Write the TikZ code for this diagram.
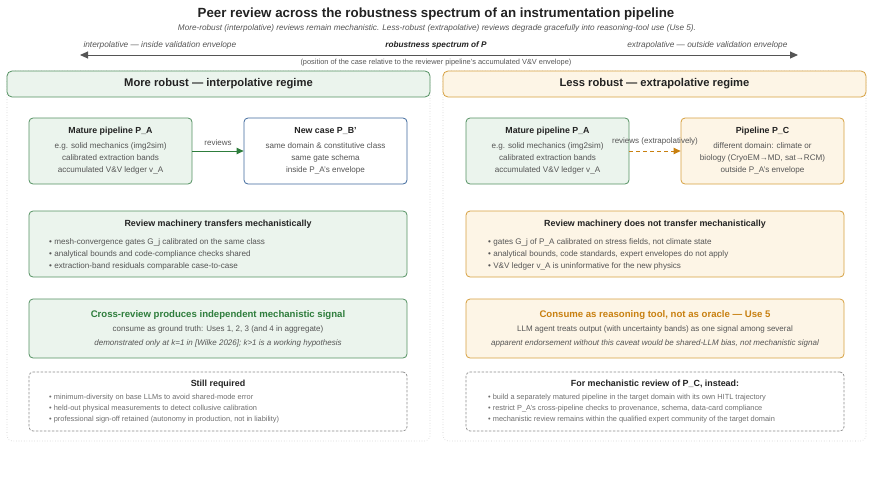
\documentclass[tikz,border=0pt]{standalone}
\usepackage{fontspec}
\setmainfont{Liberation Sans}
\usetikzlibrary{arrows.meta,positioning,calc}
\definecolor{InkDark}{RGB}{34,34,34}
\definecolor{InkGrey}{RGB}{85,85,85}
\definecolor{InkSoft}{RGB}{110,110,110}
\definecolor{PanelGrey}{RGB}{200,200,200}
\definecolor{ForestEdge}{RGB}{84,145,98}
\definecolor{ForestText}{RGB}{46,125,60}
\definecolor{SoftGreen}{RGB}{235,244,237}
\definecolor{AmberEdge}{RGB}{214,160,64}
\definecolor{AmberText}{RGB}{200,128,16}
\definecolor{SoftAmber}{RGB}{253,245,230}
\definecolor{SteelEdge}{RGB}{62,104,156}

\begin{document}
\begin{tikzpicture}[x=1pt,y=-1pt,>={Triangle[length=7pt,width=6.5pt]},
  panel/.style={draw=PanelGrey,dotted,line width=0.6pt,rounded corners=5pt},
  header/.style={rounded corners=5pt,line width=0.8pt,minimum width=423pt,
    minimum height=26pt,text=InkDark,font=\bfseries\fontsize{11.2}{13}\selectfont},
  card/.style={rounded corners=4pt,line width=0.8pt,minimum width=163pt,
    minimum height=66pt,align=center,text=InkGrey,inner sep=0pt,
    font=\fontsize{8.1}{12}\selectfont},
  widebox/.style={rounded corners=4pt,line width=0.8pt,minimum width=378pt,inner sep=0pt},
  boxtitle/.style={text=InkDark,font=\bfseries\fontsize{8.9}{10}\selectfont,inner sep=0pt},
  bullets/.style={anchor=west,align=left,text=InkGrey,inner sep=0pt,
    font=\fontsize{8.1}{12}\selectfont},
  smallbullets/.style={anchor=west,align=left,text=InkSoft,inner sep=0pt,
    font=\fontsize{7.4}{11}\selectfont},
  greenbox/.style={draw=ForestEdge,fill=SoftGreen},
  amberbox/.style={draw=AmberEdge,fill=SoftAmber},
  cavebox/.style={draw=InkSoft!80,dashed,dash pattern=on 2.5pt off 1.5pt,line width=0.7pt}
]
\useasboundingbox (0,0) rectangle (873,493);

% title and spectrum axis
\node[text=InkDark,font=\bfseries\fontsize{13.3}{15}\selectfont] (title) at (436,14)
  {Peer review across the robustness spectrum of an instrumentation pipeline};
\node[text=InkGrey,font=\itshape\fontsize{8.2}{10}\selectfont] (subtitle) at (437,28)
  {More-robust (interpolative) reviews remain mechanistic. Less-robust (extrapolative) reviews degrade gracefully into reasoning-tool use (Use 5).};
\coordinate (lo) at (80,55);
\coordinate (hi) at (798,55);
\draw[<->,InkGrey,line width=1pt,>={Triangle[length=8pt,width=7pt]}] (lo) -- (hi);
\node[anchor=west,text=InkGrey,font=\itshape\fontsize{8.3}{10}\selectfont] (interp) at (80,45)
  {interpolative --- inside validation envelope};
\node[text=InkDark,font=\bfseries\itshape\fontsize{8.2}{10}\selectfont] (spectrum) at (436,45)
  {robustness spectrum of P};
\node[anchor=east,text=InkGrey,font=\itshape\fontsize{8.3}{10}\selectfont] (extrap) at (791,45)
  {extrapolative --- outside validation envelope};
\node[text=InkGrey,font=\fontsize{7.4}{9}\selectfont] (position) at (436,63)
  {(position of the case relative to the reviewer pipeline's accumulated V\&V envelope)};

% left panel: interpolative
\draw[panel] (7,71) rectangle (430,441);
\node[header,greenbox] (hdrL) at (218.5,84) {More robust --- interpolative regime};

\node[card,greenbox] (matA) at (110.5,151)
  {{\bfseries\color{InkDark}\fontsize{8.8}{12}\selectfont Mature pipeline P\_A}\\[3pt]
   e.g. solid mechanics (img2sim)\\ calibrated extraction bands\\ accumulated V\&V ledger v\_A};
\node[card,draw=SteelEdge,fill=white] (newB) at (325.5,151)
  {{\bfseries\color{InkDark}\fontsize{8.8}{12}\selectfont New case P\_B'}\\[3pt]
   same domain \& constitutive class\\ same gate schema\\ inside P\_A's envelope};
\draw[->,ForestText,line width=1pt] (matA) -- (newB)
  node[midway,above=2pt,text=InkGrey,font=\fontsize{8}{10}\selectfont] {reviews};

\node[widebox,greenbox,minimum height=66pt] (machL) at (218,244) {};
\node[boxtitle] (machLt) at (218,224) {Review machinery transfers mechanistically};
\node[bullets] (machLb) at (49,254)
  {• mesh-convergence gates G\_j calibrated on the same class\\
   • analytical bounds and code-compliance checks shared\\
   • extraction-band residuals comparable case-to-case};

\node[widebox,greenbox,minimum height=59pt,align=center,text=InkGrey,
  font=\fontsize{8}{14}\selectfont] (crossL) at (218,328.5)
  {{\bfseries\color{ForestText}\fontsize{9.6}{14}\selectfont Cross-review produces independent mechanistic signal}\\
   consume as ground truth: Uses 1, 2, 3 (and 4 in aggregate)\\
   \itshape demonstrated only at k=1 in [Wilke 2026]; k>1 is a working hypothesis};

\node[widebox,cavebox,minimum height=59pt] (stillL) at (218,401.5) {};
\node[boxtitle] (stillLt) at (218,384) {Still required};
\node[smallbullets] (stillLb) at (49,409)
  {• minimum-diversity on base LLMs to avoid shared-mode error\\
   • held-out physical measurements to detect collusive calibration\\
   • professional sign-off retained (autonomy in production, not in liability)};

% right panel: extrapolative
\draw[panel] (443,71) rectangle (866,441);
\node[header,amberbox] (hdrR) at (654.5,84) {Less robust --- extrapolative regime};

\node[card,greenbox] (matA2) at (547.5,151)
  {{\bfseries\color{InkDark}\fontsize{8.8}{12}\selectfont Mature pipeline P\_A}\\[3pt]
   e.g. solid mechanics (img2sim)\\ calibrated extraction bands\\ accumulated V\&V ledger v\_A};
\node[card,amberbox] (pipeC) at (762.5,151)
  {{\bfseries\color{InkDark}\fontsize{8.8}{12}\selectfont Pipeline P\_C}\\[3pt]
   different domain: climate or\\ biology (CryoEM→MD, sat→RCM)\\ outside P\_A's envelope};
\draw[->,AmberText,line width=1pt,dashed,dash pattern=on 4pt off 3pt] (matA2) -- (pipeC)
  node[midway,above=2pt,text=InkGrey,font=\fontsize{8}{10}\selectfont] {reviews (extrapolatively)};

\node[widebox,amberbox,minimum height=66pt] (machR) at (655,244) {};
\node[boxtitle] (machRt) at (655,224) {Review machinery does not transfer mechanistically};
\node[bullets] (machRb) at (488,254)
  {• gates G\_j of P\_A calibrated on stress fields, not climate state\\
   • analytical bounds, code standards, expert envelopes do not apply\\
   • V\&V ledger v\_A is uninformative for the new physics};

\node[widebox,amberbox,minimum height=59pt,align=center,text=InkGrey,
  font=\fontsize{8}{14}\selectfont] (oracleR) at (655,328.5)
  {{\bfseries\color{AmberText}\fontsize{9.6}{14}\selectfont Consume as reasoning tool, not as oracle --- Use 5}\\
   LLM agent treats output (with uncertainty bands) as one signal among several\\
   \itshape apparent endorsement without this caveat would be shared-LLM bias, not mechanistic signal};

\node[widebox,cavebox,minimum height=59pt] (insteadR) at (655,401.5) {};
\node[boxtitle] (insteadRt) at (655,384) {For mechanistic review of P\_C, instead:};
\node[smallbullets] (insteadRb) at (488,409)
  {• build a separately matured pipeline in the target domain with its own HITL trajectory\\
   • restrict P\_A's cross-pipeline checks to provenance, schema, data-card compliance\\
   • mechanistic review remains within the qualified expert community of the target domain};
\end{tikzpicture}
\end{document}
